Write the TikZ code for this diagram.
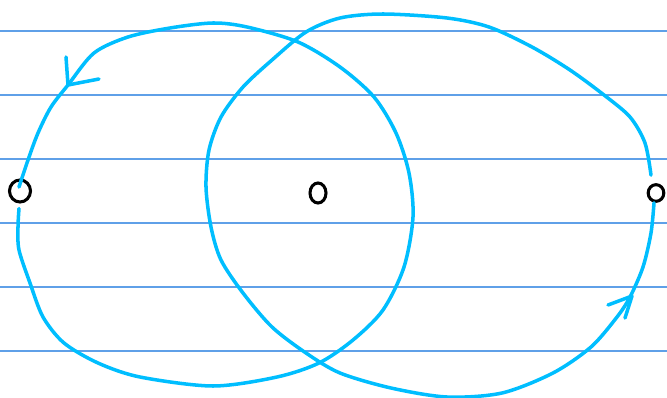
\documentclass[tikz,border=0pt]{standalone}
\usepackage{tikz}
\usetikzlibrary{shapes,arrows,positioning,calc}

\definecolor{ruleblue}{RGB}{95,160,232}
\definecolor{loopcyan}{RGB}{0,190,255}

\begin{document}
\begin{tikzpicture}[
    x=0.03cm, y=-0.03cm,
    rule/.style={draw=ruleblue, line width=0.9pt},
    loopline/.style={draw=loopcyan, line width=3pt, line cap=round, line join=round},
    point/.style={ellipse, draw, line width=2.6pt, inner sep=0pt}
]
    \useasboundingbox (0,0) rectangle (667,398);

    % ruled paper
    \foreach \y in {31,95,...,351}
        \draw [rule] (0,\y) -- (667,\y);

    \node [point, minimum width=0.63cm, minimum height=0.66cm] (L) at (20,191) {};
    \node [point, minimum width=0.48cm, minimum height=0.6cm] (M) at (318,193) {};
    \node [point, minimum width=0.47cm, minimum height=0.5cm] (R) at (656,193) {};

    % left loop
    \draw [loopline] plot [smooth] coordinates {
        ($(L.south)+(-1,5)$) (18,227) (19,250) (30,283) (43,317) (64,343)
        (98,363) (140,377) (213,386) (277,377) (319,363) (353,340)
        (383,310) (404,267) (413,217) (409,173) (396,133) (374,97)
        (340,67) (298,42) (247,27) (213,23) (170,28) (128,37) (94,53)
        (68,85) (51,107) (38,133) (28,160) ($(L.center)+(-1,-4)$)};
    \coordinate (tipL) at (68,85);
    \draw [loopline] ($(tipL)+(-2,-28)$) -- (tipL) -- ($(tipL)+(31,-6)$);

    % right loop
    \draw [loopline] plot [smooth] coordinates {
        ($(R.north)+(-5,-8)$) (645,143) (630,117) (604,95) (570,70)
        (532,47) (489,27) (447,18) (383,14) (340,18) (306,32) (272,60)
        (243,87) (221,117) (209,150) (206,187) (211,227) (221,260)
        (243,293) (272,327) (306,353) (340,373) (391,388) (447,397)
        (502,393) (553,373) (591,347) (617,317) (630,297) (643,267)
        (651,233) ($(R.south)+(-2,0)$)};
    \coordinate (tipR) at (632,296);
    \draw [loopline] ($(tipR)+(-24,9)$) -- (tipR) -- ($(tipR)+(-7,22)$);
\end{tikzpicture}
\end{document}
